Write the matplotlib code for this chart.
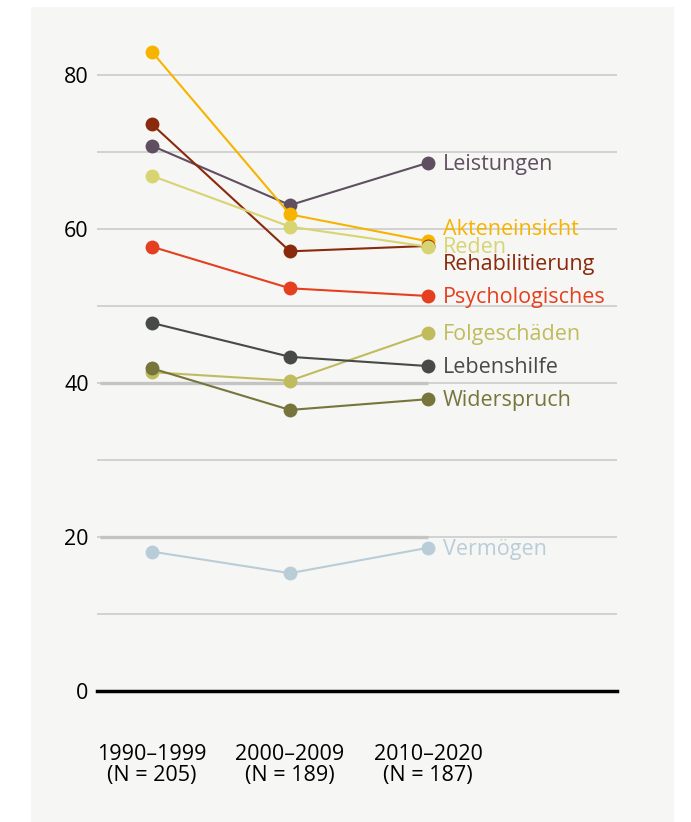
import matplotlib.pyplot as plt
from matplotlib.patches import Rectangle

# decades on the x axis
periods = ["1990–1999\n(N = 205)", "2000–2009\n(N = 189)", "2010–2020\n(N = 187)"]

# share in percent per topic
akteneinsicht = [83.0, 61.9, 58.4]
rehabilitierung = [73.6, 57.1, 57.8]
leistungen = [70.8, 63.1, 68.6]
reden = [66.9, 60.3, 57.7]
psychologisches = [57.7, 52.3, 51.3]
lebenshilfe = [47.8, 43.4, 42.2]
folgeschaeden = [41.4, 40.3, 46.5]
widerspruch = [41.9, 36.5, 37.9]
vermoegen = [18.1, 15.3, 18.6]

# name, values, colour, label y position (drawing order = stacking order)
series = [
    ("Vermögen", vermoegen, "#b9cdd9", 18.4),
    ("Folgeschäden", folgeschaeden, "#c0bc5e", 46.3),
    ("Widerspruch", widerspruch, "#76763c", 37.7),
    ("Lebenshilfe", lebenshilfe, "#474a46", 42.0),
    ("Psychologisches", psychologisches, "#e4401f", 51.1),
    ("Leistungen", leistungen, "#5f4f60", 68.4),
    ("Akteneinsicht", akteneinsicht, "#f6b400", 59.9),
    ("Rehabilitierung", rehabilitierung, "#8a2a0c", 55.4),
    ("Reden", reden, "#d8d472", 57.6),
]

plt.rcParams['font.family'] = ['Open Sans', 'DejaVu Sans']
FS = 15.5

W, H = 691, 822
fig = plt.figure(figsize=(W / 100, H / 100), dpi=100)
fig.patch.set_facecolor("white")
fig.patches.append(Rectangle((31 / W, 0), (674 - 31) / W, (822 - 7) / H,
                             transform=fig.transFigure, facecolor="#f6f6f4",
                             edgecolor="none", zorder=-10))

# axes: 0 at y=691px, 7.7 px per unit
left, right = 97, 617
bottom_px = 691
top_px = 30
ax = fig.add_axes([left / W, (H - bottom_px) / H, (right - left) / W, (bottom_px - top_px) / H])
ax.set_facecolor("none")
ax.set_xlim(-55 / 138, 2 + 189 / 138)
ax.set_ylim(0, (bottom_px - top_px) / 7.7)

x = [0, 1, 2]

for g in [10, 20, 30, 40, 50, 60, 70, 80]:
    ax.axhline(g, color="#c8c8c8", lw=1.1, zorder=1)
for g in [20, 40]:
    ax.plot([-0.38, 2], [g, g], color="#c4c4c4", lw=2.4, zorder=1, solid_capstyle="butt")
ax.axhline(0, color="black", lw=2.5, zorder=2, clip_on=False)

for name, vals, col, ly in series:
    ax.plot(x, vals, color=col, lw=1.5, marker="o", markersize=10,
            markeredgewidth=0, zorder=3)
    ax.text(2.11, ly, name, color=col, fontsize=FS, va="center", ha="left", zorder=4)

for s in ax.spines.values():
    s.set_visible(False)
ax.set_yticks([0, 20, 40, 60, 80])
ax.set_yticklabels(["0", "20", "40", "60", "80"], fontsize=FS)
ax.tick_params(axis="y", length=0, pad=6)
ax.set_xticks(x)
ax.set_xticklabels(periods, fontsize=FS, linespacing=1.0)
ax.tick_params(axis="x", length=0, pad=38)

fig.savefig("out.png", dpi=100)
